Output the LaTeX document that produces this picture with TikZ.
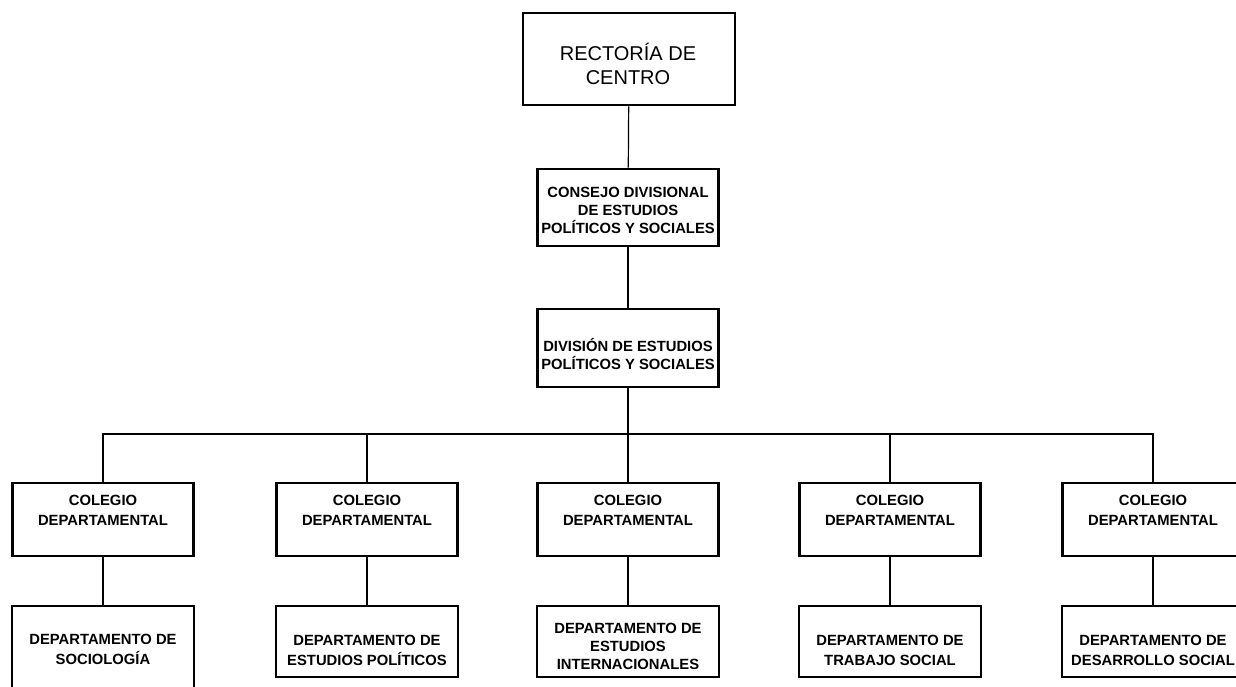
\documentclass[tikz,border=0pt]{standalone}
\usepackage{fontspec}
\setmainfont{Liberation Sans}
\usepackage{tikz}
\usetikzlibrary{positioning}

\begin{document}
\begin{tikzpicture}[x=1pt,y=-1pt,
unit/.style={draw,line width=2.6pt,inner sep=0pt},
lbl/.style={align=center,inner sep=0pt,font=\bfseries\fontsize{14.8}{18}\selectfont},
lbltwo/.style={lbl,font=\bfseries\fontsize{14.8}{20}\selectfont},
colbox/.style={unit,minimum width=181pt,minimum height=73pt},
deptbox/.style={unit,minimum width=182pt,minimum height=71pt},
conn/.style={line width=1.2pt}]
\useasboundingbox (0,0) rectangle (1236,687);
% upper levels
\node[unit,minimum width=212pt,minimum height=92pt](rect) at (629,59){};
\node[lbl,font=\fontsize{20}{24}\selectfont](rect-t) at (628,64){RECTORÍA DE\\CENTRO};
\node[unit,minimum width=181pt,minimum height=77pt](cons) at (628,207.5){};
\node[lbl](cons-t) at (628,210){CONSEJO DIVISIONAL\\DE ESTUDIOS\\POLÍTICOS  Y SOCIALES};
\node[unit,minimum width=181pt,minimum height=78pt](div) at (628,348){};
\node[lbl](div-t) at (628,354){DIVISIÓN DE ESTUDIOS\\POLÍTICOS Y SOCIALES};
\draw[conn](rect)--(cons);
\draw[conn](cons)--(div);
\coordinate(bus) at (628,434);
\draw[conn](div.south)--(bus);
% colegios
\foreach \i/\x in {1/103,2/367,3/628,4/890,5/1153}{
\node[colbox](col\i) at (\x,519.5){};
\node[lbltwo](col\i-t) at (\x,510){COLEGIO\\DEPARTAMENTAL};
\draw[conn](col\i.north)|-(bus);
}
% departamentos
\node[deptbox,minimum height=85pt](dep1) at (103,648.5){};
\node[lbltwo](dep1-t) at (103,649){DEPARTAMENTO DE\\SOCIOLOGÍA};
\node[deptbox](dep2) at (367,641.5){};
\node[lbltwo](dep2-t) at (367,650){DEPARTAMENTO DE\\ESTUDIOS POLÍTICOS};
\node[deptbox](dep3) at (628,641.5){};
\node[lbl](dep3-t) at (628,646){DEPARTAMENTO DE\\ESTUDIOS\\INTERNACIONALES};
\node[deptbox](dep4) at (890,641.5){};
\node[lbltwo](dep4-t) at (890,650){DEPARTAMENTO DE\\TRABAJO SOCIAL};
\node[deptbox](dep5) at (1153,641.5){};
\node[lbltwo](dep5-t) at (1153,650){DEPARTAMENTO DE\\DESARROLLO SOCIAL};
\foreach \i in {1,...,5}
\draw[conn](col\i)--(dep\i);
\end{tikzpicture}
\end{document}
